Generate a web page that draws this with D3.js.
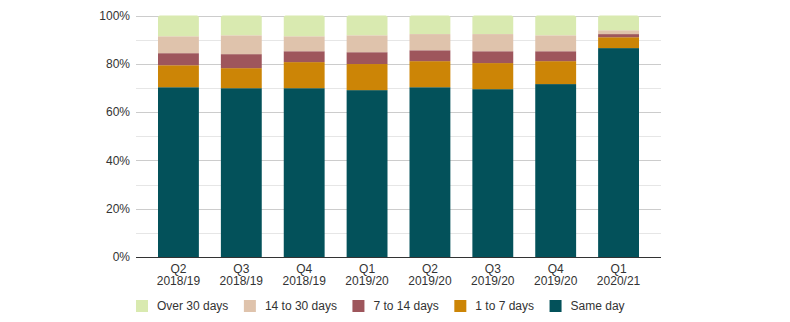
<!DOCTYPE html>
<html>
<head>
<meta charset="utf-8">
<script src="https://cdn.jsdelivr.net/npm/d3@7"></script>
<style>
  html, body { margin: 0; padding: 0; background: #fff; }
  svg { display: block; font-family: "Liberation Sans", Arial, sans-serif; }
</style>
</head>
<body>
<svg id="chart" width="790" height="322"></svg>
<script>
// ---- data ----
const quarters = ["Q2", "Q3", "Q4", "Q1", "Q2", "Q3", "Q4", "Q1"];
const years = ["2018/19", "2018/19", "2018/19", "2019/20", "2019/20", "2019/20", "2019/20", "2020/21"];
const seriesNames = ["Same day", "1 to 7 days", "7 to 14 days", "14 to 30 days", "Over 30 days"];
const sameDay     = [70.3, 69.9, 69.9, 69.1, 70.3, 69.5, 71.6, 86.5];
const oneToSeven  = [ 9.1,  8.3, 10.8, 10.8, 10.8, 10.8,  9.5,  4.5];
const sevenTo14   = [ 5.0,  5.8,  4.5,  4.9,  4.5,  4.9,  4.1,  1.3];
const fourteenTo30= [ 7.0,  7.8,  6.2,  7.0,  6.7,  7.1,  6.6,  1.6];
const over30      = [ 8.6,  8.2,  8.6,  8.2,  7.7,  7.7,  8.2,  6.1];
const yTicks = [0, 20, 40, 60, 80, 100];
const colors = ["#03515a", "#cc8506", "#9e565c", "#dfc3ac", "#d9eab0"];

const values = [sameDay, oneToSeven, sevenTo14, fourteenTo30, over30];
const rows = quarters.map((q, i) => {
  const r = { key: i };
  seriesNames.forEach((s, k) => { r[s] = values[k][i]; });
  return r;
});

const svg = d3.select("#chart");
const mLeft = 136, mRight = 661, mTop = 15.5, mBottom = 257;

const x = d3.scaleBand().domain(d3.range(quarters.length)).range([mLeft, mRight]).paddingInner(0.35).paddingOuter(0.35);
const y = d3.scaleLinear().domain([0, 100]).range([mBottom, mTop]);

// gridlines: minor
const minor = d3.range(10, 100, 20);
svg.append("g").selectAll("line").data(minor).join("line")
  .attr("x1", mLeft).attr("x2", mRight)
  .attr("y1", d => Math.round(y(d)) + 0.5).attr("y2", d => Math.round(y(d)) + 0.5)
  .attr("stroke", "#e6e6e6").attr("stroke-width", 1);
// gridlines: major
svg.append("g").selectAll("line").data(yTicks.filter(d => d > 0)).join("line")
  .attr("x1", mLeft).attr("x2", mRight)
  .attr("y1", d => Math.round(y(d)) + 0.5).attr("y2", d => Math.round(y(d)) + 0.5)
  .attr("stroke", "#cccccc").attr("stroke-width", 1);

// stacks
const stack = d3.stack().keys(seriesNames);
const stacked = stack(rows);
const topIndex = stacked.length - 1;

stacked.forEach((layer, k) => {
  const g = svg.append("g").attr("fill", colors[k]);
  layer.forEach((d, i) => {
    const x0 = x(i), w = x.bandwidth();
    const y0 = y(d[0]), y1 = y(d[1]);
    if (k === topIndex) {
      const r = 2;
      g.append("path").attr("d",
        `M${x0},${y0}V${y1 + r}Q${x0},${y1} ${x0 + r},${y1}H${x0 + w - r}Q${x0 + w},${y1} ${x0 + w},${y1 + r}V${y0}Z`);
    } else {
      g.append("rect").attr("x", x0).attr("y", y1).attr("width", w).attr("height", y0 - y1);
    }
  });
});

// baseline
svg.append("line").attr("x1", mLeft).attr("x2", mRight)
  .attr("y1", mBottom + 0.5).attr("y2", mBottom + 0.5)
  .attr("stroke", "#333").attr("stroke-width", 1);

// y axis labels
const yAxis = d3.axisLeft(y).tickValues(yTicks).tickFormat(d => d + "%").tickSize(0).tickPadding(6);
const ya = svg.append("g").attr("transform", `translate(${mLeft},0)`).call(yAxis);
ya.select(".domain").remove();
ya.selectAll("text").attr("font-size", 12).attr("fill", "#333")
  .attr("font-family", '"Liberation Sans", Arial, sans-serif');

// x axis labels (two lines)
const xl = svg.append("g");
quarters.forEach((q, i) => {
  const cx = x(i) + x.bandwidth() / 2;
  const t = xl.append("text").attr("text-anchor", "middle").attr("font-size", 12).attr("fill", "#333");
  t.append("tspan").attr("x", cx).attr("y", 272.5).text(q);
  t.append("tspan").attr("x", cx).attr("y", 285).text(years[i]);
});

// legend
const legendOrder = [4, 3, 2, 1, 0];
const lg = svg.append("g");
let lx = 136;
legendOrder.forEach(k => {
  lg.append("rect").attr("x", lx).attr("y", 300).attr("width", 12).attr("height", 12).attr("fill", colors[k]);
  const t = lg.append("text").attr("x", lx + 21).attr("y", 310).attr("font-size", 12).attr("fill", "#333").text(seriesNames[k]);
  lx += 21 + t.node().getComputedTextLength() + 15.5;
});
</script>
</body>
</html>
